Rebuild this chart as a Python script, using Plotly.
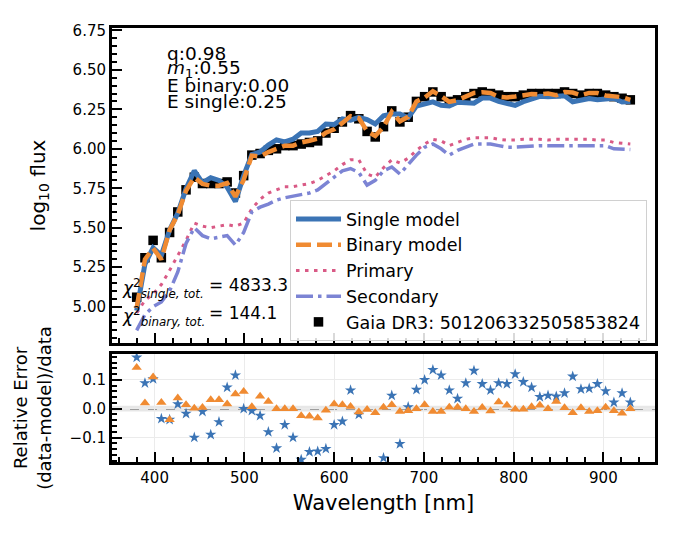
import plotly.graph_objects as go

# wavelength grid of the sampled spectrum (nm)
wavelength = [380.0, 389.2, 398.3, 407.5, 416.7, 425.8, 435.0, 444.2, 453.3, 462.5,
              471.7, 480.8, 490.0, 499.2, 508.3, 517.5, 526.7, 535.8, 545.0, 554.2,
              563.3, 572.5, 581.7, 590.8, 600.0, 609.2, 618.3, 627.5, 636.7, 645.8,
              655.0, 664.2, 673.3, 682.5, 691.7, 700.8, 710.0, 719.2, 728.3, 737.5,
              746.7, 755.8, 765.0, 774.2, 783.3, 792.5, 801.7, 810.8, 820.0, 829.2,
              838.3, 847.5, 856.7, 865.8, 875.0, 884.2, 893.3, 902.5, 911.7, 920.8,
              930.0]

# log10 flux
gaia_data = [5.06, 5.31, 5.42, 5.31, 5.47, 5.60, 5.74, 5.82, 5.78, 5.78,
             5.78, 5.79, 5.72, 5.83, 5.96, 5.97, 5.99, 6.00, 6.02, 6.02,
             6.03, 6.04, 6.05, 6.10, 6.13, 6.17, 6.21, 6.19, 6.11, 6.075,
             6.14, 6.24, 6.17, 6.20, 6.30, 6.33, 6.36, 6.33, 6.30, 6.31,
             6.33, 6.35, 6.36, 6.35, 6.34, 6.33, 6.33, 6.34, 6.35, 6.35,
             6.35, 6.35, 6.36, 6.35, 6.34, 6.35, 6.35, 6.34, 6.33, 6.32,
             6.31]

single_model = [4.975, 5.27, 5.373, 5.325, 5.486, 5.593, 5.747, 5.861, 5.784, 5.817,
                5.80, 5.757, 5.666, 5.83, 5.963, 5.98, 6.024, 6.056, 6.044, 6.061,
                6.10, 6.10, 6.11, 6.157, 6.154, 6.189, 6.181, 6.199, 6.185, 6.157,
                6.209, 6.22, 6.22, 6.197, 6.27, 6.284, 6.297, 6.276, 6.271, 6.295,
                6.29, 6.289, 6.321, 6.321, 6.30, 6.291, 6.275, 6.298, 6.317, 6.332,
                6.33, 6.331, 6.336, 6.298, 6.309, 6.318, 6.311, 6.313, 6.32, 6.296,
                6.30]

binary_model = [4.993, 5.30, 5.37, 5.30, 5.486, 5.584, 5.734, 5.819, 5.778, 5.766,
                5.766, 5.783, 5.697, 5.803, 5.957, 5.951, 5.979, 6.00, 6.02, 6.02,
                6.04, 6.051, 6.064, 6.102, 6.123, 6.164, 6.207, 6.195, 6.111, 6.081,
                6.138, 6.234, 6.174, 6.203, 6.30, 6.324, 6.364, 6.334, 6.298, 6.308,
                6.33, 6.354, 6.358, 6.353, 6.33, 6.325, 6.331, 6.341, 6.347, 6.345,
                6.35, 6.339, 6.359, 6.356, 6.339, 6.354, 6.353, 6.338, 6.333, 6.327,
                6.31]

primary = [4.96, 5.04, 5.08, 5.14, 5.23, 5.32, 5.42, 5.53, 5.51, 5.50,
           5.51, 5.52, 5.51, 5.53, 5.62, 5.68, 5.72, 5.74, 5.76, 5.76,
           5.77, 5.78, 5.80, 5.83, 5.86, 5.90, 5.93, 5.93, 5.84, 5.82,
           5.88, 5.93, 5.91, 5.94, 5.99, 6.03, 6.06, 6.05, 6.02, 6.04,
           6.06, 6.07, 6.07, 6.07, 6.06, 6.055, 6.055, 6.06, 6.06, 6.06,
           6.055, 6.06, 6.06, 6.06, 6.06, 6.06, 6.055, 6.055, 6.04, 6.035,
           6.03]

secondary = [4.85, 4.95, 5.00, 5.03, 5.10, 5.22, 5.40, 5.50, 5.45, 5.43,
             5.44, 5.45, 5.39, 5.47, 5.60, 5.63, 5.65, 5.675, 5.69, 5.70,
             5.71, 5.72, 5.74, 5.78, 5.82, 5.86, 5.875, 5.85, 5.77, 5.80,
             5.86, 5.885, 5.84, 5.90, 5.96, 6.01, 6.03, 6.00, 5.96, 5.99,
             6.01, 6.03, 6.03, 6.03, 6.02, 6.01, 6.01, 6.015, 6.02, 6.02,
             6.02, 6.02, 6.025, 6.02, 6.02, 6.02, 6.02, 6.02, 6.00, 5.995,
             5.995]

# relative error (data-model)/data
res_single = [0.178, 0.089, 0.103, -0.035, -0.038, 0.016, -0.017, -0.10, -0.01, -0.09,
              -0.046, 0.074, 0.116, 0.0, -0.007, -0.024, -0.081, -0.137, -0.056, -0.10,
              -0.177, -0.15, -0.148, -0.139, -0.056, -0.044, 0.064, -0.02, -0.22, -0.24,
              -0.171, 0.046, -0.122, 0.006, 0.066, 0.10, 0.135, 0.116, 0.064, 0.035,
              0.089, 0.132, 0.086, 0.064, 0.089, 0.086, 0.12, 0.093, 0.074, 0.041,
              0.046, 0.043, 0.054, 0.112, 0.068, 0.07, 0.086, 0.061, 0.022, 0.054,
              0.022]

res_binary = [0.143, 0.02, 0.11, 0.022, -0.038, 0.037, 0.014, 0.002, 0.004, 0.031,
              0.031, 0.016, 0.051, 0.06, 0.007, 0.043, 0.025, 0.0, 0.0, 0.0,
              -0.024, -0.026, -0.032, -0.005, 0.016, 0.014, 0.008, -0.011, -0.003, -0.014,
              0.005, 0.014, -0.01, -0.007, 0.0, 0.014, -0.01, -0.01, 0.005, 0.005,
              0.0, -0.01, 0.004, -0.008, 0.023, 0.012, -0.002, -0.002, 0.007, 0.012,
              0.0, 0.025, 0.003, -0.014, 0.003, -0.01, -0.007, 0.005, -0.007, -0.016,
              0.0]

params = ['q:0.98', '<i>m</i><sub>1</sub>:0.55', 'E binary:0.00', 'E single:0.25']
chi_single = 4833.3
chi_binary = 144.1
gaia_id = '501206332505853824'

BLUE = '#3b74b5'
ORANGE = '#f08b32'
PINK = '#d95a86'
PURPLE = '#7c84d4'
FONT = 'DejaVu Sans'

# plot area in screen pixels; the page body adds an 8px offset
OFF = 8
L, R, T, B = 112, 655, 28, 462


def px(x):
    return (x - L) / (R - L)


def py(y):
    return (B - y) / (B - T)


fig = go.Figure()

# ---- top panel ----
fig.add_trace(go.Scatter(x=wavelength, y=primary, mode='lines', name='Primary',
                         line=dict(color=PINK, width=3, dash='3.5px,5.5px'),
                         legendgroup='c', legendrank=3))
fig.add_trace(go.Scatter(x=wavelength, y=secondary, mode='lines', name='Secondary',
                         line=dict(color=PURPLE, width=3.5, dash='17px,5px,3.5px,5px'),
                         legendgroup='d', legendrank=4))
fig.add_trace(go.Scatter(x=wavelength, y=gaia_data, mode='markers',
                         name='Gaia DR3: ' + gaia_id,
                         marker=dict(symbol='square', size=9.5, color='black'),
                         legendgroup='e', legendrank=5))
fig.add_trace(go.Scatter(x=wavelength, y=single_model, mode='lines', name='Single model',
                         line=dict(color=BLUE, width=5),
                         legendgroup='a', legendrank=1))
fig.add_trace(go.Scatter(x=wavelength, y=binary_model, mode='lines', name='Binary model',
                         line=dict(color=ORANGE, width=4.5, dash='15px,6px'),
                         legendgroup='b', legendrank=2))

# ---- residual panel ----
fig.add_trace(go.Scatter(x=wavelength, y=res_single, mode='markers', showlegend=False,
                         marker=dict(symbol='star', size=8.5, color=BLUE),
                         xaxis='x2', yaxis='y2', cliponaxis=True))
fig.add_trace(go.Scatter(x=wavelength, y=res_binary, mode='markers', showlegend=False,
                         marker=dict(symbol='triangle-up', size=9, color=ORANGE),
                         xaxis='x2', yaxis='y2', cliponaxis=True))

axis_common = dict(showline=True, linewidth=3, linecolor='black', mirror=True,
                   ticks='inside', ticklen=10, tickwidth=2, tickcolor='black',
                   tickfont=dict(size=15, color='black'), zeroline=False)

fig.update_layout(
    width=680, height=534,
    margin=dict(l=L - OFF, r=680 - R + OFF, t=T - OFF, b=534 - B + OFF),
    plot_bgcolor='white', paper_bgcolor='white',
    font=dict(family=FONT, color='black'),
    xaxis=dict(**axis_common, domain=[0, 1], anchor='y', range=[352.5, 957.5],
               dtick=100, showticklabels=False, showgrid=False, matches='x2',
               minor=dict(ticks='inside', ticklen=5, tickwidth=1.5, dtick=20,
                          tick0=0, tickcolor='black')),
    yaxis=dict(**axis_common, domain=[py(343), 1], anchor='x', range=[4.77, 6.765],
               dtick=0.25, tick0=5, tickformat='.2f', showgrid=False,
               title=dict(text='log<sub>10</sub> flux', font=dict(size=20), standoff=22),
               minor=dict(ticks='inside', ticklen=5, tickwidth=1.5, dtick=0.05,
                          tick0=0, tickcolor='black')),
    xaxis2=dict(**axis_common, domain=[0, 1], anchor='y2', range=[352.5, 957.5],
                dtick=100, showgrid=True, gridcolor='#ebebeb', gridwidth=1,
                title=dict(text='Wavelength [nm]', font=dict(size=21), standoff=10),
                minor=dict(ticks='inside', ticklen=5, tickwidth=1.5, dtick=20,
                           tick0=0, tickcolor='black')),
    yaxis2=dict(**axis_common, domain=[0, py(354)], anchor='x2', range=[-0.185, 0.19],
                dtick=0.1, tick0=0, tickformat='.1f', showgrid=True,
                gridcolor='#ebebeb', gridwidth=1,
                title=dict(text='Relative Error<br>(data-model)/data', font=dict(size=18),
                           standoff=14),
                minor=dict(ticks='inside', ticklen=5, tickwidth=1.5, dtick=0.02,
                           tick0=0, tickcolor='black')),
    legend=dict(x=px(290), y=py(200), xanchor='left', yanchor='top',
                bgcolor='rgba(255,255,255,0.85)', bordercolor='#d0d0d0', borderwidth=1,
                font=dict(size=17.5), itemwidth=45, tracegroupgap=0,
                traceorder='grouped'),
    showlegend=True,
)

# band and dashed zero line in the residual panel
fig.add_shape(type='rect', xref='x2 domain', yref='y2', x0=0, x1=1, y0=-0.01, y1=0.01,
              fillcolor='rgba(160,160,160,0.25)', line=dict(width=0), layer='below')
fig.add_shape(type='line', xref='x2 domain', yref='y2', x0=0, x1=1, y0=0, y1=0,
              line=dict(color='#555555', width=1.5, dash='dash'), layer='below')

# parameter text block
for i, txt in enumerate(params):
    fig.add_annotation(text=txt, xref='paper', yref='paper', x=px(165), y=py(53 + 16 * i),
                       xanchor='left', yanchor='middle', showarrow=False,
                       font=dict(size=18.5, color='black'))

# chi-square text
fig.add_annotation(text='<i>χ</i><sup>2</sup><sub><i>single, tot.</i></sub>',
                   xref='paper', yref='paper', x=px(120), y=py(288), xanchor='left',
                   yanchor='middle', showarrow=False, font=dict(size=17))
fig.add_annotation(text='= %.1f' % chi_single, xref='paper', yref='paper', x=px(207),
                   y=py(285), xanchor='left', yanchor='middle', showarrow=False,
                   font=dict(size=17))
fig.add_annotation(text='<i>χ</i><sup>2</sup><sub><i>binary, tot.</i></sub>',
                   xref='paper', yref='paper', x=px(120), y=py(316), xanchor='left',
                   yanchor='middle', showarrow=False, font=dict(size=17))
fig.add_annotation(text='= %.1f' % chi_binary, xref='paper', yref='paper', x=px(207),
                   y=py(313), xanchor='left', yanchor='middle', showarrow=False,
                   font=dict(size=17))

fig.write_html('out.html')
